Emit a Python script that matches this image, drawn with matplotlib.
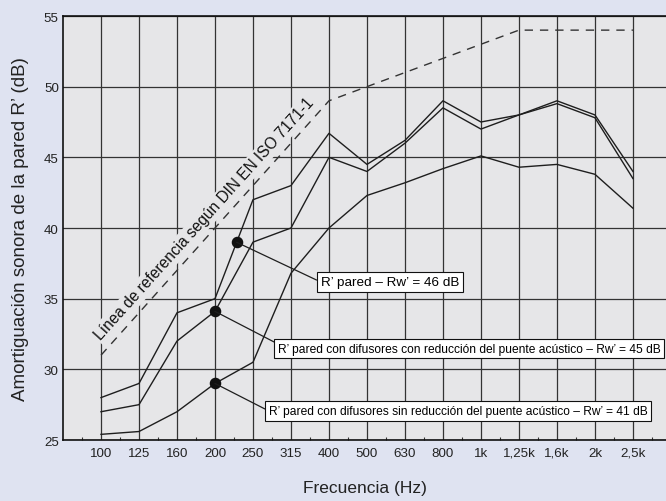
import numpy as np
import matplotlib
matplotlib.use("Agg")
import matplotlib.pyplot as plt

freq_labels = ['100', '125', '160', '200', '250', '315', '400', '500',
               '630', '800', '1k', '1,25k', '1,6k', '2k', '2,5k']
ref_curve = [31, 34, 37, 40, 43, 46, 49, 50, 51, 52, 53, 54, 54, 54, 54]
r_pared = [28.0, 29.0, 34.0, 35.0, 42.0, 43.0, 46.7, 44.5, 46.2, 49.0,
           47.5, 48.0, 49.0, 48.0, 44.0]
r_con = [27.0, 27.5, 32.0, 34.1, 39.0, 40.0, 45.0, 44.0, 46.0, 48.5,
         47.0, 48.0, 48.8, 47.8, 43.5]
r_sin = [25.4, 25.6, 27.0, 29.0, 30.5, 36.8, 40.0, 42.3, 43.2, 44.2,
         45.1, 44.3, 44.5, 43.8, 41.4]

label_pared = "R’ pared – Rw’ = 46 dB"
label_con = "R’ pared con difusores con reducción del puente acústico – Rw’ = 45 dB"
label_sin = "R’ pared con difusores sin reducción del puente acústico – Rw’ = 41 dB"
ref_text = "Línea de referencia según DIN EN ISO 7171-1"

plt.rcParams['font.family'] = ['Liberation Sans', 'DejaVu Sans']

OUTER_BG = '#dfe3f1'
INNER_BG = '#e6e6e8'
LINE = '#1e1e1e'

fig = plt.figure(figsize=(6.66, 5.02), dpi=100, facecolor=OUTER_BG)
ax = fig.add_axes([63 / 666, 61 / 502, 603 / 666, 424 / 502])
ax.set_facecolor(INNER_BG)

x = np.arange(len(freq_labels))

ax.plot(x, ref_curve, color='#333333', lw=1.0, dashes=(6, 5), zorder=5)
for series in (r_pared, r_con, r_sin):
    ax.plot(x, series, color=LINE, lw=1.0, zorder=3)

# points that carry the leader lines
dot_x = [3.57, 3, 3]
dot_y = [np.interp(3.57, x, r_pared), r_con[3], r_sin[3]]
ax.plot(dot_x, dot_y, 'o', color='#111111', ms=7.3, zorder=5)

box = dict(boxstyle='square,pad=0.3', fc='white', ec='#111111', lw=0.8)
ax.annotate(label_pared, xy=(dot_x[0], dot_y[0]), xytext=(5.79, 36.17),
            ha='left', va='center', fontsize=9.7, bbox=box, zorder=6,
            arrowprops=dict(arrowstyle='-', lw=0.9, color=LINE, shrinkA=0,
                            shrinkB=0, relpos=(0, 0.5)))
ax.annotate(label_con, xy=(dot_x[1], dot_y[1]), xytext=(4.66, 31.45),
            ha='left', va='center', fontsize=8.65, bbox=box, zorder=6,
            arrowprops=dict(arrowstyle='-', lw=0.9, color=LINE, shrinkA=0,
                            shrinkB=0, relpos=(0, 0.9)))
ax.annotate(label_sin, xy=(dot_x[2], dot_y[2]), xytext=(4.42, 27.05),
            ha='left', va='center', fontsize=8.65, bbox=box, zorder=6,
            arrowprops=dict(arrowstyle='-', lw=0.9, color=LINE, shrinkA=0,
                            shrinkB=0, relpos=(0, 0.5)))

ax.text(2.73, 40.66, ref_text, rotation=48, rotation_mode='anchor',
        ha='center', va='center', fontsize=11.2, color='#111111', zorder=4,
        bbox=dict(boxstyle='square,pad=0.15', fc=INNER_BG, ec='none'))

ax.set_xlim(-1, 14.87)
ax.set_ylim(25, 55)
ax.set_xticks(x)
ax.set_xticklabels(freq_labels)
ax.set_xticks(np.arange(-0.5, 15, 1), minor=True)
ax.set_yticks(np.arange(25, 56, 5))
ax.tick_params(axis='both', which='major', length=0, labelsize=9.6,
               labelcolor='#222222')
ax.tick_params(axis='x', pad=5)
ax.tick_params(axis='y', pad=3)
ax.tick_params(axis='x', which='minor', direction='in', length=2.5,
               width=0.8, color='#333333')
ax.grid(True, color='#333333', lw=0.9, zorder=1)
ax.set_axisbelow(True)

for side in ('left', 'bottom', 'top'):
    ax.spines[side].set_color('#111111')
    ax.spines[side].set_linewidth(1.2)
ax.spines['right'].set_visible(False)

ax.set_ylabel("Amortiguación sonora de la pared R’ (dB)", fontsize=13.5,
              labelpad=11, color='#222222')
ax.set_xlabel("Frecuencia (Hz)", fontsize=12.5, labelpad=15,
              color='#222222')

fig.savefig('out.png', dpi=100, facecolor=OUTER_BG)
